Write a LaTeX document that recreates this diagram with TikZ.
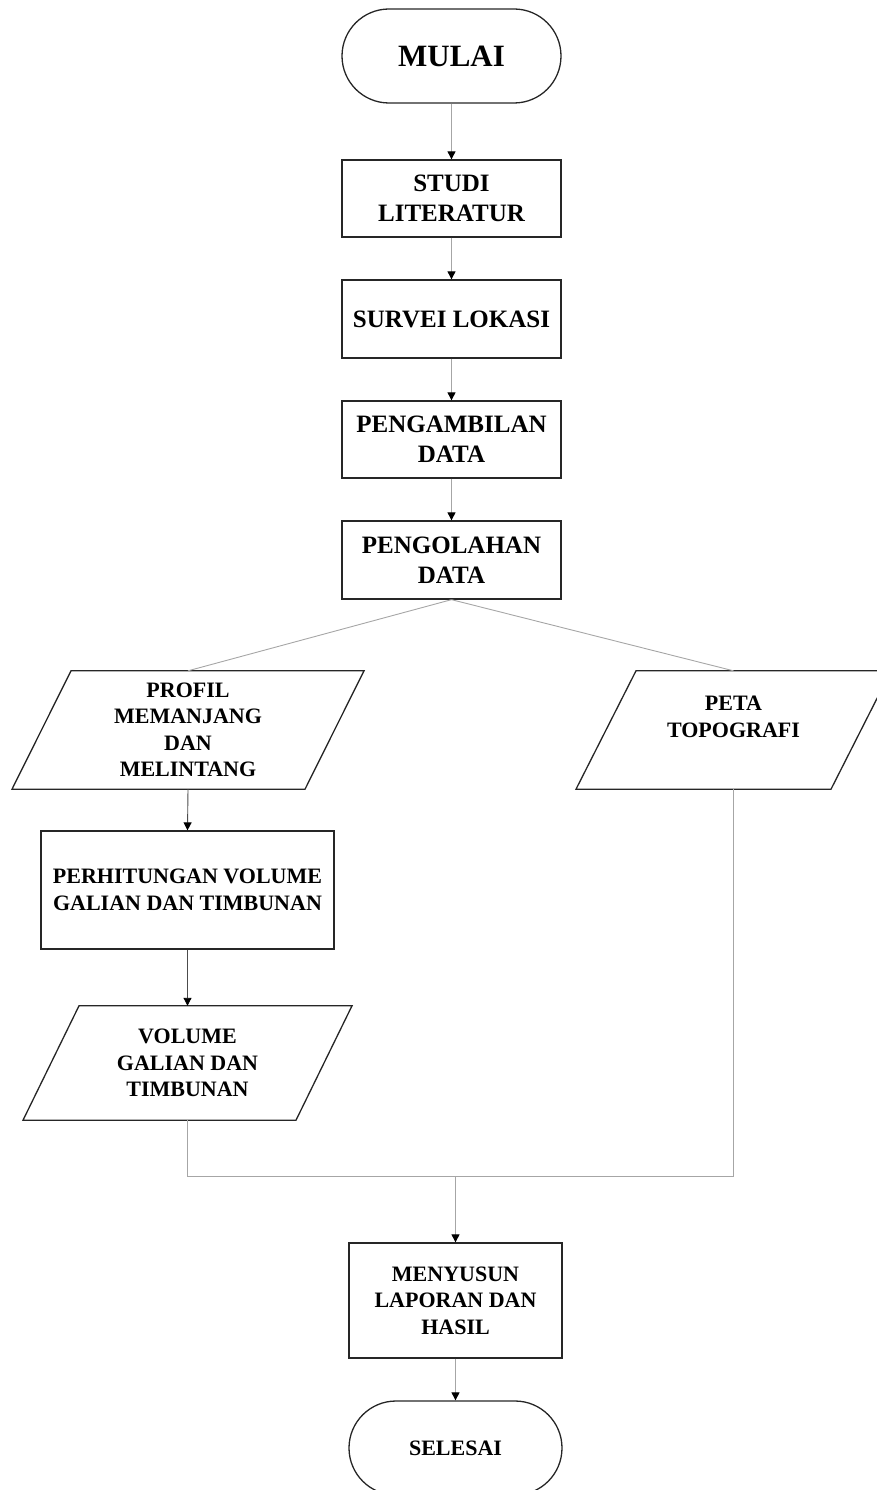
\documentclass[tikz,border=0pt]{standalone}
\usepackage{fontspec}
\setmainfont{Liberation Serif}
\usetikzlibrary{arrows.meta,calc}
\begin{document}
\begin{tikzpicture}[x=1pt,y=-1pt,
  border/.style={draw=black!85,line width=1.3pt},
  box/.style={border,inner sep=0pt,align=center,minimum width=219pt,
    font=\bfseries\fontsize{25}{30}\selectfont},
  boxb/.style={border,inner sep=0pt,align=center,
    font=\bfseries\fontsize{22}{26.5}\selectfont},
  term/.style={border,inner sep=0pt,align=center,rounded corners=47pt,minimum height=94pt},
  iotext/.style={inner sep=0pt,align=center,font=\bfseries\fontsize{22}{26.5}\selectfont},
  conn/.style={draw=black!35,line width=0.9pt},
  arr/.style={conn,-{Triangle[length=8pt,width=8pt,color=black]}},
  arrd/.style={draw=black!70,line width=0.9pt,-{Triangle[length=8pt,width=8pt,color=black]}},
]
\useasboundingbox (0,0) rectangle (877,1490);

% nodes
\node[term,minimum width=219pt,font=\bfseries\fontsize{31}{36}\selectfont] (mulai) at (451.5,56) {MULAI};
\node[box,minimum height=77pt] (studi) at (451.5,198.5) {STUDI\\LITERATUR};
\node[box,minimum height=78pt] (survei) at (451.5,319) {SURVEI LOKASI};
\node[box,minimum height=77pt] (ambil) at (451.5,439.5) {PENGAMBILAN\\DATA};
\node[box,minimum height=78pt] (olah) at (451.5,560) {PENGOLAHAN\\DATA};

\node[iotext,minimum height=118pt] (prof) at (188,730) {PROFIL\\MEMANJANG\\DAN\\MELINTANG};
\node[iotext,minimum height=118pt] (peta) at (733.5,730) {PETA\\TOPOGRAFI\\\phantom{T}};
\node[boxb,minimum width=293pt,minimum height=118pt] (perh) at (187.5,890) {PERHITUNGAN VOLUME\\GALIAN DAN TIMBUNAN};
\node[iotext,minimum height=114pt] (vol) at (187.5,1063) {VOLUME\\GALIAN DAN\\TIMBUNAN};
\node[boxb,minimum width=213pt,minimum height=115pt] (lapor) at (455.5,1300.5) {MENYUSUN\\LAPORAN DAN\\HASIL};
\node[term,minimum width=213pt,font=\bfseries\fontsize{22}{26.5}\selectfont] (selesai) at (455.5,1448) {SELESAI};

% parallelograms
\draw[border] ($(prof.north)+(-117,0)$) -- ($(prof.north)+(176,0)$) -- ($(prof.south)+(117,0)$) -- ($(prof.south)+(-176,0)$) -- cycle;
\draw[border] ($(peta.north)+(-97.5,0)$) -- ($(peta.north)+(157.5,0)$) -- ($(peta.south)+(97.5,0)$) -- ($(peta.south)+(-157.5,0)$) -- cycle;
\draw[border] ($(vol.north)+(-108.5,0)$) -- ($(vol.north)+(164.5,0)$) -- ($(vol.south)+(108.5,0)$) -- ($(vol.south)+(-164.5,0)$) -- cycle;

% connectors
\draw[arr] (mulai) -- (studi);
\draw[arr] (studi) -- (survei);
\draw[arr] (survei) -- (ambil);
\draw[arr] (ambil) -- (olah);
\draw[conn] (olah.south) -- (prof.north);
\draw[conn] (olah.south) -- (peta.north);
\draw[arrd] (prof.south) -- (perh.north);
\draw[arrd] (perh) -- (vol);
\coordinate (j) at (455.5,1176);
\draw[conn] (vol.south) |- (j) -| (peta.south);
\draw[arr] (j) -- (lapor);
\draw[arr] (lapor) -- (selesai);
\end{tikzpicture}
\end{document}
